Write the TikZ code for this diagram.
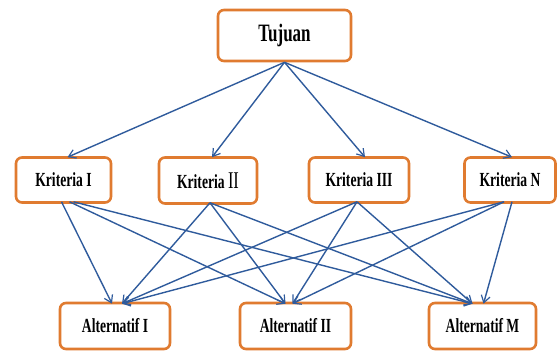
\documentclass[tikz,border=0pt]{standalone}
\usepackage{fontspec}
\setmainfont{Liberation Serif}[FakeStretch=0.68]
\usetikzlibrary{arrows.meta}
\definecolor{boxor}{HTML}{E07B30}
\definecolor{lnblue}{HTML}{2F5B9C}
\tikzset{
  box/.style={draw=boxor, line width=2.6pt, rounded corners=6pt, fill=white,
    inner sep=0pt, font=\bfseries\fontsize{20}{21}\selectfont, text=black},
  conn/.style={draw=lnblue, line width=1.4pt, -{Straight Barb[length=7pt,width=9pt,line width=1.2pt]}}
}
\begin{document}
\begin{tikzpicture}[x=1pt,y=-1pt]
\useasboundingbox (0,0) rectangle (557,352);
\node[box, minimum width=133pt, minimum height=51pt, font=\bfseries\fontsize{25}{27}\selectfont] (t) at (284.5,35.5) {Tujuan};
\node[box, minimum width=95pt, minimum height=45pt] (k1) at (63.5,180) {Kriteria I};
\node[box, minimum width=98pt, minimum height=46pt] (k2) at (208,180.5) {Kriteria {\mdseries\fontsize{24}{25}\selectfont II}};
\node[box, minimum width=100pt, minimum height=45pt] (k3) at (359,180) {Kriteria III};
\node[box, minimum width=91pt, minimum height=45pt] (k4) at (510,180) {Kriteria N};
\node[box, minimum width=110pt, minimum height=46pt] (a1) at (115,326) {Alternatif I};
\node[box, minimum width=111pt, minimum height=46pt] (a2) at (295.5,326) {Alternatif II};
\node[box, minimum width=107pt, minimum height=46pt] (a3) at (482.5,326) {Alternatif M};
% top level
\draw[conn] (t.south) -- ([xshift=4pt,yshift=-1pt]k1.north);
\draw[conn] (t.south) -- ([xshift=4pt,yshift=-1pt]k2.north);
\draw[conn] (t.south) -- ([xshift=6pt,yshift=-1pt]k3.north);
\draw[conn] (t.south) -- ([xshift=2pt,yshift=-1pt]k4.north);
% criteria to alternatives
\draw[conn] ([xshift=-2pt,yshift=2pt]k1.south) -- ([xshift=-3pt,yshift=-2pt]a1.north);
\draw[conn] ([xshift=6pt,yshift=2pt]k1.south) -- ([xshift=-10pt,yshift=-2pt]a2.north);
\draw[conn] ([xshift=10pt,yshift=2pt]k1.south) -- ([xshift=-10pt,yshift=-2pt]a3.north);
\draw[conn] ([xshift=2pt,yshift=2pt]k2.south) -- ([xshift=7pt,yshift=-2pt]a1.north);
\draw[conn] ([xshift=2pt,yshift=2pt]k2.south) -- ([xshift=-10pt,yshift=-2pt]a2.north);
\draw[conn] ([xshift=2pt,yshift=2pt]k2.south) -- ([xshift=-10pt,yshift=-2pt]a3.north);
\draw[conn] ([xshift=-2pt,yshift=2pt]k3.south) -- ([xshift=7pt,yshift=-2pt]a1.north);
\draw[conn] ([xshift=-2pt,yshift=2pt]k3.south) -- ([xshift=-3pt,yshift=-2pt]a2.north);
\draw[conn] ([xshift=-2pt,yshift=2pt]k3.south) -- ([xshift=-10pt,yshift=-2pt]a3.north);
\draw[conn] ([xshift=-6pt,yshift=2pt]k4.south) -- ([xshift=7pt,yshift=-2pt]a1.north);
\draw[conn] ([xshift=-6pt,yshift=2pt]k4.south) -- ([xshift=-3pt,yshift=-2pt]a2.north);
\draw[conn] ([xshift=2pt,yshift=2pt]k4.south) -- ([xshift=1pt,yshift=-2pt]a3.north);
\end{tikzpicture}
\end{document}
